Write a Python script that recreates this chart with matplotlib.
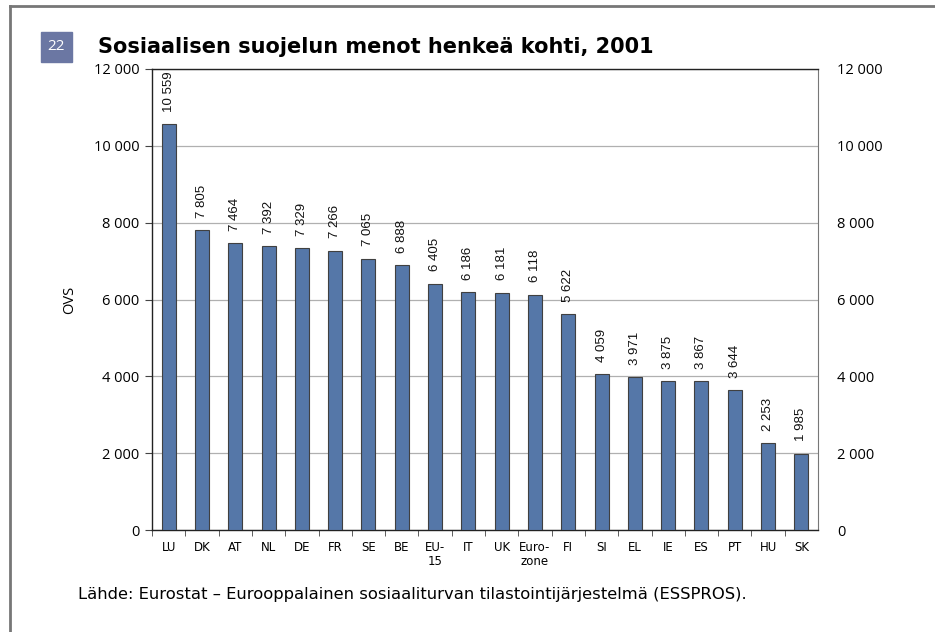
import matplotlib

matplotlib.use("Agg")
import matplotlib.pyplot as plt
from matplotlib.patches import Rectangle

countries = ["LU", "DK", "AT", "NL", "DE", "FR", "SE", "BE", "EU-\n15", "IT", "UK",
             "Euro-\nzone", "FI", "SI", "EL", "IE", "ES", "PT", "HU", "SK"]
values = [10559, 7805, 7464, 7392, 7329, 7266, 7065, 6888, 6405, 6186, 6181,
          6118, 5622, 4059, 3971, 3875, 3867, 3644, 2253, 1985]
y_ticks = [0, 2000, 4000, 6000, 8000, 10000, 12000]

BAR = "#5577a8"


def fmt(v):
    # finnish style: space as thousands separator
    return f"{v:,}".replace(",", " ")


fig = plt.figure(figsize=(9.35, 6.32), dpi=100)

# page frame (cut off at the right and bottom)
fig.add_artist(plt.Line2D([10 / 935, 10 / 935], [0, 1 - 6 / 632], color="#777777", lw=2,
                          transform=fig.transFigure))
fig.add_artist(plt.Line2D([10 / 935, 1], [1 - 6 / 632, 1 - 6 / 632], color="#777777", lw=2,
                          transform=fig.transFigure))

ax = fig.add_axes([152 / 935, 1 - 530 / 632, 666 / 935, 461 / 632])
x = list(range(len(countries)))
ax.bar(x, values, width=0.42, color=BAR, edgecolor="#404040", linewidth=0.8, zorder=3)

for xi, v in zip(x, values):
    ax.annotate(fmt(v), (xi, v), xytext=(0, 9), textcoords="offset points",
                rotation=90, ha="center", va="bottom", fontsize=9.5,
                family="Liberation Sans", color="#111111")

ax.set_xlim(-0.5, len(countries) - 0.5)
ax.set_ylim(0, 12000)
ax.set_yticks(y_ticks)
ax.set_yticklabels([fmt(t) for t in y_ticks], fontsize=10.5, family="Open Sans")
ax.grid(axis="y", color="#b0b0b0", lw=0.9, zorder=0)
ax.set_axisbelow(True)

ax.set_xticks(x)
ax.set_xticklabels(countries, fontsize=8.5, family="DejaVu Sans", linespacing=1.1)
ax.set_xticks([i + 0.5 for i in x[:-1]] + [-0.5], minor=True)
ax.tick_params(axis="x", which="major", length=0, pad=8)
ax.tick_params(axis="x", which="minor", length=4, color="#444444")
ax.tick_params(axis="y", length=5, color="#444444", pad=4)

for side in ["left", "bottom", "top"]:
    ax.spines[side].set_color("#222222")
    ax.spines[side].set_linewidth(1.0)
ax.spines["right"].set_color("#777777")

ax.set_ylabel("OVS", fontsize=10.5, family="Open Sans", labelpad=12)

ax2 = ax.twinx()
ax2.set_ylim(0, 12000)
ax2.set_yticks(y_ticks)
ax2.set_yticklabels([fmt(t) for t in y_ticks], fontsize=10.5, family="Open Sans")
ax2.tick_params(axis="y", length=0, pad=14)
for s in ax2.spines.values():
    s.set_visible(False)

# title with number box
fig.add_artist(Rectangle((41 / 935, 1 - 62 / 632), 31 / 935, 30 / 632, color="#6b77a3",
                         transform=fig.transFigure))
fig.text(56.5 / 935, 1 - 47 / 632, "22", color="white", fontsize=11, ha="center",
         va="center", family="Open Sans")
fig.text(98 / 935, 1 - 47 / 632, "Sosiaalisen suojelun menot henkeä kohti, 2001",
         fontsize=15, fontweight="bold", ha="left", va="center", family="DejaVu Sans")

fig.text(78 / 935, 1 - 594 / 632,
         "Lähde: Eurostat – Eurooppalainen sosiaaliturvan tilastointijärjestelmä (ESSPROS).",
         fontsize=11.8, ha="left", va="center", family="DejaVu Sans")

fig.savefig("out.png", dpi=100)
